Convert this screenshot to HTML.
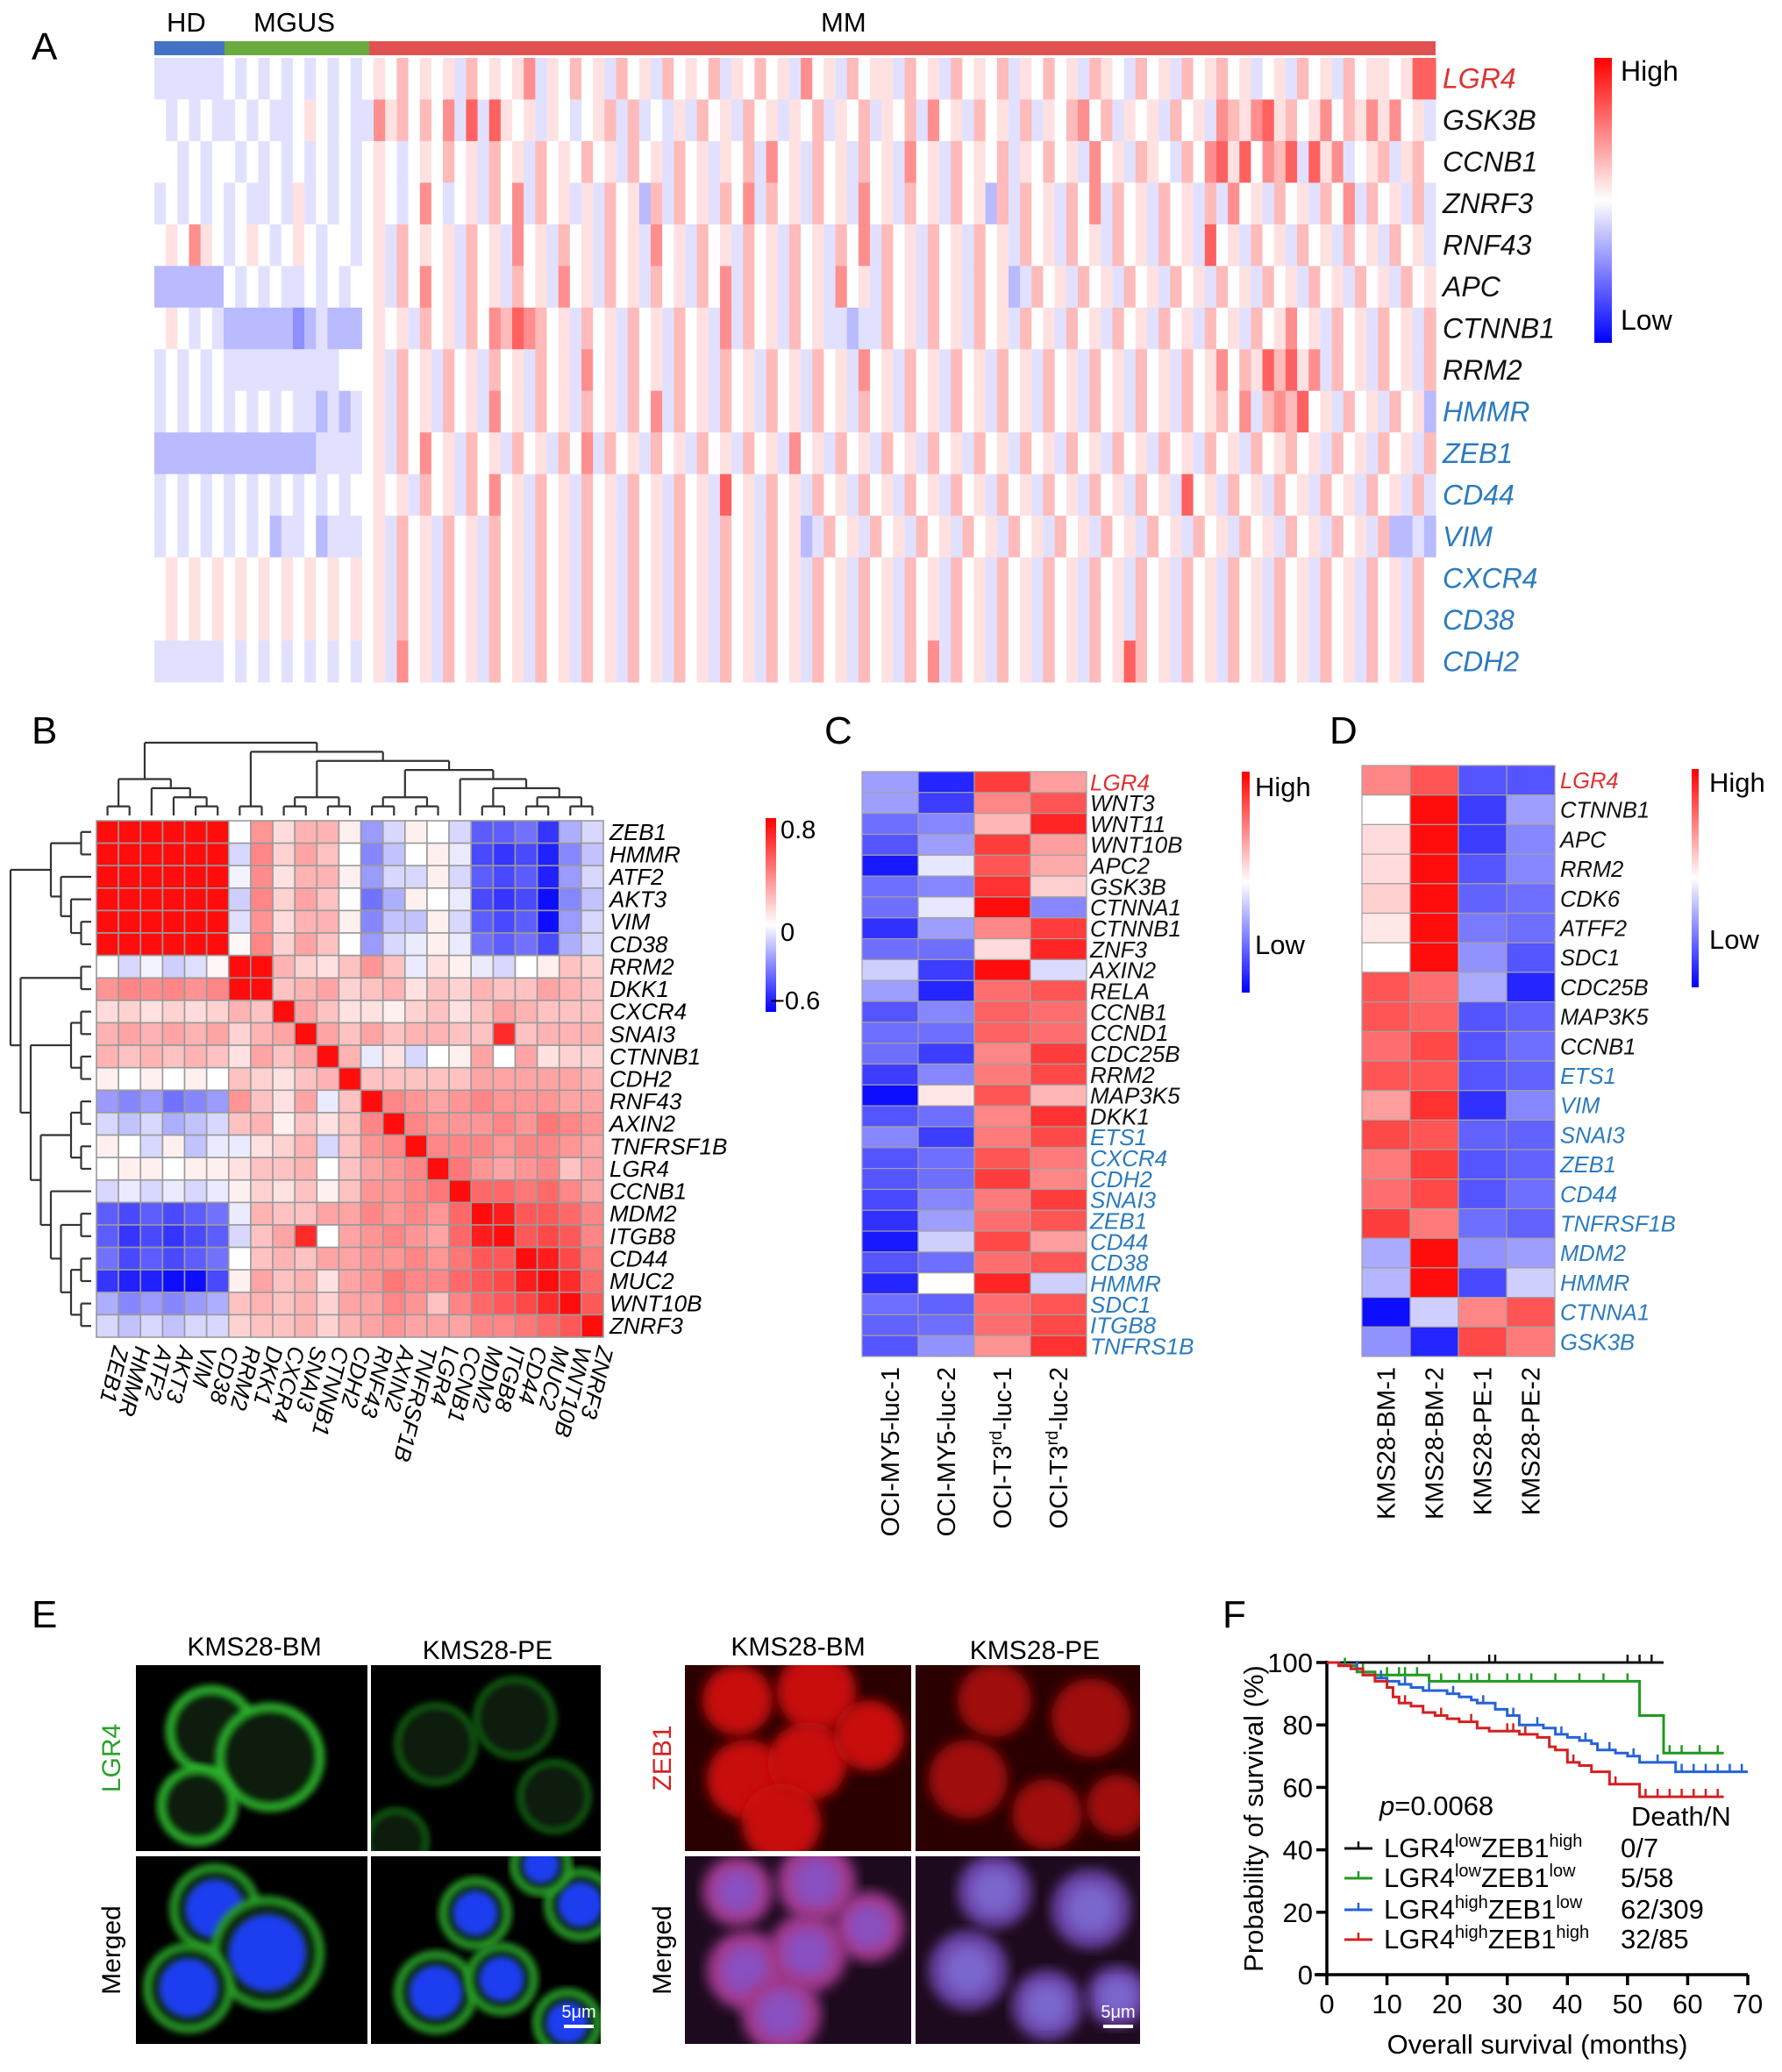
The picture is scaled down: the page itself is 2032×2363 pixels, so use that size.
<!DOCTYPE html>
<html><head><meta charset="utf-8"><title>LGR4 / ZEB1 figure</title>
<style>
html,body{margin:0;padding:0;background:#fff;}
#fig{position:absolute;left:0;top:0;font-family:"Liberation Sans",Arial,sans-serif;}
</style></head>
<body>
<svg id="fig" width="2032" height="2363" viewBox="0 0 2032 2363">
<defs>
 <linearGradient id="hiLo" x1="0" y1="0" x2="0" y2="1">
  <stop offset="0" stop-color="#ff0000"/><stop offset="0.5" stop-color="#ffffff"/><stop offset="1" stop-color="#0000ff"/>
 </linearGradient>
 <linearGradient id="corrGrad" x1="0" y1="0" x2="0" y2="1">
  <stop offset="0" stop-color="#ff0000"/><stop offset="0.55" stop-color="#ffffff"/><stop offset="1" stop-color="#0000ff"/>
 </linearGradient>
 <filter id="blur3"><feGaussianBlur stdDeviation="4"/></filter>
 <filter id="blur6"><feGaussianBlur stdDeviation="7"/></filter>
</defs>
<g font-size="44" fill="#000">
 <text x="36" y="68">A</text>
 <text x="36" y="848">B</text>
 <text x="940" y="848">C</text>
 <text x="1516" y="848">D</text>
 <text x="36" y="1856">E</text>
 <text x="1394" y="1856">F</text>
</g>
<g font-size="31">
 <text x="190" y="36">HD</text>
 <text x="289" y="36">MGUS</text>
 <text x="936" y="36">MM</text>
</g>
<rect x="176" y="47" width="80" height="16" fill="#4472c4"/>
<rect x="256" y="47" width="165" height="16" fill="#6aaa3f"/>
<rect x="421" y="47" width="1216" height="16" fill="#e05252"/>
<g id="panelA"></g>
<rect x="1818" y="66" width="20" height="325" fill="url(#hiLo)"/>
<text x="1848" y="92" font-size="32">High</text>
<text x="1848" y="376" font-size="32">Low</text>

<g id="panelB"></g>
<rect x="873" y="933" width="12" height="221" fill="url(#corrGrad)"/>
<g font-size="29">
<text x="890" y="956">0.8</text>
<text x="890" y="1073">0</text>
<text x="878" y="1151">−0.6</text>
</g>

<g id="panelC"></g>
<rect x="1416" y="880" width="9" height="252" fill="url(#hiLo)"/>
<text x="1431" y="908" font-size="31">High</text>
<text x="1431" y="1088" font-size="31">Low</text>

<g id="panelD"></g>
<rect x="1929" y="877" width="8" height="249" fill="url(#hiLo)"/>
<text x="1949" y="903" font-size="31">High</text>
<text x="1949" y="1082" font-size="31">Low</text>

<g id="panelE">
 <g font-size="30">
  <text x="290" y="1888" text-anchor="middle">KMS28-BM</text>
  <text x="556" y="1892" text-anchor="middle">KMS28-PE</text>
  <text x="910" y="1888" text-anchor="middle">KMS28-BM</text>
  <text x="1180" y="1892" text-anchor="middle">KMS28-PE</text>
  <text transform="translate(137,2005) rotate(-90)" text-anchor="middle" fill="#2ca02c">LGR4</text>
  <text transform="translate(137,2224) rotate(-90)" text-anchor="middle">Merged</text>
  <text transform="translate(765,2005) rotate(-90)" text-anchor="middle" fill="#d62020">ZEB1</text>
  <text transform="translate(765,2224) rotate(-90)" text-anchor="middle">Merged</text>
 </g>
</g>

<g id="panelF"></g>
</svg>
<script>
// ---------------- Panel A data ----------------
const aGenes=["LGR4","GSK3B","CCNB1","ZNRF3","RNF43","APC","CTNNB1","RRM2","HMMR","ZEB1","CD44","VIM","CXCR4","CD38","CDH2"];
const aGeneKind=["red","black","black","black","black","black","black","black","blue","blue","blue","blue","blue","blue","blue"];
const aRows=[
"333333434343434343454645453645457354645364536454635464537453645536453645463546453654364536456453453645364554588",
"434343343433454343375646473838545354345636343536453645354635463546374536453635467463545364537657856457465757453",
"443434434343434343454345464536453645464536453645354637453645364537453645463546453745365436478584768385734563564",
"343434343343534343454347434536473645353645263645364736453645374536453645263645364736453645363745364536473645363",
"454754345434543443453645453645374536453645374536453645364536473645364536453645364536453645384536453645364536453",
"222222434343343434453647453645364537453645364536473645364537453645364536452364536453645364536453645364536453645",
"454343222222123222454536453647687645364536453645373645364533233645364536453645364536453645364536457453645364536",
"343434333333333344453645364536453645374536453645364536453645374536453645364536453645364536457465868573645364536",
"343434343434332323453645364537453645364536473645364536453645364536453645364536453645364536456473676845364536452",
"222222222222223333453647453645364536473645364536453645374536453645364536453645364536453645364536456453645364536",
"343434343434343434454536453647453645364536453645384536453645364536453645364536453645364538453645364536453645363",
"343434343423342333453645364536453645364536453645364536452364536453645364536453645364536453645364536453645362232",
"454545454545454545453645364536453645364536453645364536453645364536453645364536453645364536453645364536453645364",
"454545454545454545453645364536453645364536453645364536453645364536453645364536453645364536453645364536453645364",
"333333434343434343453745364536453645364536453645364536453645364536473645364536453645864536453645364536453645364"
];
// ---------------- Panel B data ----------------
const bGenes=["ZEB1","HMMR","ATF2","AKT3","VIM","CD38","RRM2","DKK1","CXCR4","SNAI3","CTNNB1","CDH2","RNF43","AXIN2","TNFRSF1B","LGR4","CCNB1","MDM2","ITGB8","CD44","MUC2","WNT10B","ZNRF3"];
const bLower=[
[0.8],
[0.8,0.8],
[0.8,0.8,0.8],
[0.8,0.8,0.8,0.8],
[0.8,0.8,0.8,0.8,0.8],
[0.8,0.8,0.8,0.8,0.8,0.8],
[0.0,-0.1,-0.03,-0.12,-0.08,0.03,0.8],
[0.35,0.4,0.38,0.4,0.36,0.4,0.8,0.8],
[0.12,0.15,0.1,0.15,0.12,0.15,0.25,0.2,0.8],
[0.25,0.3,0.25,0.3,0.25,0.3,0.15,0.25,0.3,0.8],
[0.25,0.2,0.25,0.2,0.25,0.2,0.1,0.3,0.2,0.3,0.8],
[0.05,0.0,0.05,0.0,0.05,0.0,0.2,0.15,0.1,0.2,0.25,0.8],
[-0.25,-0.3,-0.25,-0.35,-0.3,-0.25,0.35,0.2,0.1,0.3,-0.05,0.2,0.8],
[-0.1,-0.15,-0.1,-0.2,-0.15,-0.1,0.2,0.25,0.05,0.2,0.1,0.2,0.4,0.8],
[0.05,0.0,-0.1,0.05,-0.15,-0.05,-0.05,0.1,0.15,0.25,-0.1,0.2,0.35,0.4,0.8],
[0.0,0.05,0.05,0.0,0.05,0.05,0.1,0.2,0.2,0.25,0.0,0.2,0.3,0.35,0.4,0.8],
[-0.1,-0.05,-0.1,-0.05,-0.1,-0.05,0.05,0.15,0.1,0.2,0.05,0.2,0.35,0.35,0.4,0.45,0.8],
[-0.4,-0.45,-0.4,-0.45,-0.4,-0.35,-0.05,0.25,0.2,0.2,0.3,0.3,0.4,0.35,0.4,0.35,0.5,0.8],
[-0.4,-0.5,-0.45,-0.5,-0.45,-0.4,-0.1,0.2,0.3,0.7,0.0,0.3,0.35,0.4,0.35,0.3,0.5,0.75,0.8],
[-0.35,-0.45,-0.4,-0.45,-0.4,-0.35,0.0,0.2,0.25,0.2,0.3,0.3,0.35,0.35,0.4,0.35,0.45,0.55,0.55,0.8],
[-0.5,-0.55,-0.55,-0.6,-0.6,-0.45,0.05,0.3,0.2,0.25,0.1,0.3,0.35,0.45,0.4,0.4,0.5,0.55,0.6,0.75,0.8],
[-0.2,-0.3,-0.25,-0.3,-0.25,-0.2,0.2,0.25,0.2,0.25,0.15,0.3,0.3,0.4,0.35,0.2,0.4,0.5,0.55,0.6,0.7,0.8],
[-0.1,-0.15,-0.1,-0.15,-0.1,-0.1,0.15,0.2,0.2,0.25,0.15,0.25,0.3,0.35,0.3,0.3,0.3,0.4,0.4,0.45,0.5,0.55,0.8]
];
const bTree=[[[0,1],[2,[3,[4,5]]]],[[6,7],[[[8,9],[10,11]],[[[12,13],[14,15]],[16,[[17,18],[[19,20],[21,22]]]]]]]];
// ---------------- Panel C data ----------------
const cGenes=["LGR4","WNT3","WNT11","WNT10B","APC2","GSK3B","CTNNA1","CTNNB1","ZNF3","AXIN2","RELA","CCNB1","CCND1","CDC25B","RRM2","MAP3K5","DKK1","ETS1","CXCR4","CDH2","SNAI3","ZEB1","CD44","CD38","HMMR","SDC1","ITGB8","TNFRS1B"];
const cKind=["red","black","black","black","black","black","black","black","black","black","black","black","black","black","black","black","black","blue","blue","blue","blue","blue","blue","blue","blue","blue","blue","blue"];
const cSamples=["OCI-MY5-luc-1","OCI-MY5-luc-2","OCI-T3rd-luc-1","OCI-T3rd-luc-2"];
const cVals=[
[-0.4,-0.9,0.8,0.4],[-0.4,-0.8,0.5,0.7],[-0.6,-0.5,0.3,0.9],[-0.7,-0.4,0.8,0.4],
[-0.95,-0.1,0.7,0.35],[-0.6,-0.5,0.85,0.2],[-0.6,-0.1,1,-0.5],[-0.85,-0.4,0.5,0.8],
[-0.6,-0.6,0.15,0.9],[-0.2,-0.8,1,-0.15],[-0.4,-0.9,0.6,0.7],[-0.7,-0.5,0.65,0.6],
[-0.6,-0.6,0.65,0.6],[-0.6,-0.8,0.5,0.8],[-0.8,-0.5,0.55,0.75],[-1,0.1,0.7,0.3],
[-0.7,-0.6,0.5,0.85],[-0.5,-0.8,0.55,0.75],[-0.7,-0.6,0.7,0.55],[-0.7,-0.6,0.8,0.5],
[-0.75,-0.5,0.55,0.8],[-0.85,-0.4,0.6,0.7],[-0.95,-0.2,0.75,0.4],[-0.7,-0.6,0.6,0.7],
[-0.9,0,0.9,-0.2],[-0.6,-0.65,0.6,0.7],[-0.65,-0.6,0.6,0.75],[-0.7,-0.45,0.45,0.85]
];
// ---------------- Panel D data ----------------
const dGenes=["LGR4","CTNNB1","APC","RRM2","CDK6","ATFF2","SDC1","CDC25B","MAP3K5","CCNB1","ETS1","VIM","SNAI3","ZEB1","CD44","TNFRSF1B","MDM2","HMMR","CTNNA1","GSK3B"];
const dKind=["red","black","black","black","black","black","black","black","black","black","blue","blue","blue","blue","blue","blue","blue","blue","blue","blue"];
const dSamples=["KMS28-BM-1","KMS28-BM-2","KMS28-PE-1","KMS28-PE-2"];
const dVals=[
[0.5,0.7,-0.7,-0.7],[0,1,-0.8,-0.4],[0.15,1,-0.8,-0.5],[0.15,1,-0.7,-0.5],
[0.2,1,-0.65,-0.6],[0.1,1,-0.55,-0.6],[0,1,-0.45,-0.7],[0.7,0.6,-0.35,-0.9],
[0.7,0.65,-0.7,-0.65],[0.6,0.75,-0.7,-0.6],[0.7,0.7,-0.7,-0.65],[0.4,0.85,-0.85,-0.5],
[0.75,0.7,-0.65,-0.65],[0.55,0.8,-0.7,-0.65],[0.6,0.75,-0.7,-0.6],[0.8,0.55,-0.6,-0.65],
[-0.35,1,-0.45,-0.4],[-0.3,1,-0.75,-0.2],[-1,-0.2,0.5,0.7],[-0.45,-0.9,0.75,0.55]
];
// ---------------- Panel F data ----------------
const fGroups=["LGR4lowZEB1high","LGR4lowZEB1low","LGR4highZEB1low","LGR4highZEB1high"];
const fCounts=["0/7","5/58","62/309","32/85"];
const fBlackT=[0,56]; const fBlackS=[100,100]; const fBlackC=[17,27,28,50,52,54];
const fGreenT=[0,2,5,8,17,52,56,66]; const fGreenS=[100,99,97,96,94,83,71,71];
const fGreenC=[3,6,10,12,13,15,19,22,24,25,27,30,32,34,38,42,46,50,57,59,62,65];
const fBlueT=[0,2,4,6,8,10,12,14,16,18,20,22,24,25,28,30,32,34,36,38,40,42,44,45,48,50,52,56,58,70];
const fBlueS=[100,99,98,96,95,94,93,92,91,91,90,89,88,87,85,83,80,80,79,77,76,75,74,72,71,70,68,68,65,65];
const fBlueC=[5,9,13,17,21,26,31,35,39,43,47,51,55,59,61,63,65,67,69];
const fRedT=[0,2,4,6,8,10,11,12,14,16,18,20,22,25,27,32,35,37,38,40,42,44,47,50,52,66];
const fRedS=[100,99,98,96,94,92,89,87,86,84,83,82,81,79,78,77,76,73,72,68,67,65,61,61,57,57];
const fRedC=[13,19,24,30,31,33,41,48,53,55,57,59,61,63,65];
const fYTicks=[0,20,40,60,80,100];
const fXTicks=[0,10,20,30,40,50,60,70];

const NS="http://www.w3.org/2000/svg";
function mk(tag,attrs,parent){const e=document.createElementNS(NS,tag);for(const k in attrs)e.setAttribute(k,attrs[k]);if(parent)parent.appendChild(e);return e;}
function divColor(t){t=Math.max(-1,Math.min(1,t));if(t>=0){const g=Math.round(255*(1-t));return `rgb(255,${g},${g})`;}const r=Math.round(255*(1+t));return `rgb(${r},${r},255)`;}
const kindColor={red:"#e03030",black:"#111",blue:"#2b7bbf"};

// ---- Panel A ----
(function(){
 const g=document.getElementById("panelA");
 const X0=176,X1=1637,Y0=66,Y1=778,rh=(Y1-Y0)/aRows.length;
 aRows.forEach((s,r)=>{
  const n=s.length,w=(X1-X0)/n;
  for(let c=0;c<n;c++){
   const d=+s[c];
   let t=(d-4)/4;t=Math.sign(t)*Math.pow(Math.abs(t),1.2)*0.62;
   const rc=mk("rect",{x:(X0+c*w).toFixed(2),y:(Y0+r*rh).toFixed(2),width:(w+0.6).toFixed(2),height:(rh+0.4).toFixed(2),fill:divColor(t)},g);
   
   
  }
  const tx=mk("text",{x:1645,y:(Y0+(r+0.5)*rh+11).toFixed(1),"font-size":32,"font-style":"italic",fill:kindColor[aGeneKind[r]]},g);
  tx.textContent=aGenes[r];
  
  
 });
})();

// ---- Panel B ----
(function(){
 const g=document.getElementById("panelB");
 const n=bGenes.length,X0=110,X1=688,Y0=936,Y1=1525,cw=(X1-X0)/n,rh=(Y1-Y0)/n;
 function val(i,j){return i>=j?bLower[i][j]:bLower[j][i];}
 for(let i=0;i<n;i++)for(let j=0;j<n;j++){
  const v=val(i,j);const t=v>=0?v/0.8:v/0.6;
  const rc=mk("rect",{x:(X0+j*cw).toFixed(2),y:(Y0+i*rh).toFixed(2),width:cw.toFixed(2),height:rh.toFixed(2),fill:divColor(t*0.95),stroke:"#9a9a9a","stroke-width":1.6},g);
  
  
 }
 bGenes.forEach((name,i)=>{
  const t=mk("text",{x:695,y:(Y0+(i+0.5)*rh+9).toFixed(1),"font-size":26,"font-style":"italic"},g);
  t.textContent=name;
  
  
  const cx=X0+(i+0.5)*cw+7;
  const t2=mk("text",{transform:`translate(${cx.toFixed(1)},1534) rotate(104)`,"font-size":26,"font-style":"italic"},g);
  t2.textContent=name;
  
  
 });
 function depth(node){return Array.isArray(node)?1+Math.max(depth(node[0]),depth(node[1])):0;}
 const H=depth(bTree);
 function draw(node,pos,hpx,line){
  if(!Array.isArray(node))return{p:pos(node),h:0};
  const a=draw(node[0],pos,hpx,line),b=draw(node[1],pos,hpx,line);
  const h=Math.max(a.h,b.h)+1;
  line(a.p,a.h,h);line(b.p,b.h,h);line(a.p,h,h,b.p);
  return{p:(a.p+b.p)/2,h:h};
 }
 const top=mk("g",{stroke:"#333","stroke-width":2.2,fill:"none"},g);
 
 
 draw(bTree,i=>X0+(i+0.5)*cw,null,(p,h0,h1,p2)=>{
  const y=h=>Y0-6-h*(83/H);
  if(p2===undefined)mk("line",{x1:p,y1:y(h0),x2:p,y2:y(h1)},top);
  else mk("line",{x1:p,y1:y(h1),x2:p2,y2:y(h1)},top);
 });
 const left=mk("g",{stroke:"#333","stroke-width":2.2,fill:"none"},g);
 
 
 draw(bTree,i=>Y0+(i+0.5)*rh,null,(p,h0,h1,p2)=>{
  const x=h=>X0-6-h*(92/H);
  if(p2===undefined)mk("line",{x1:x(h0),y1:p,x2:x(h1),y2:p},left);
  else mk("line",{x1:x(h1),y1:p,x2:x(h1),y2:p2},left);
 });
})();

// ---- Panels C & D ----
function smallHeat(gid,genes,kinds,vals,samples,X0,X1,Y0,Y1,fs,labX,colName){
 const g=document.getElementById(gid);
 const nc=samples.length,nr=genes.length,cw=(X1-X0)/nc,rh=(Y1-Y0)/nr;
 for(let i=0;i<nr;i++){for(let j=0;j<nc;j++){
  const rc=mk("rect",{x:(X0+j*cw).toFixed(2),y:(Y0+i*rh).toFixed(2),width:cw.toFixed(2),height:rh.toFixed(2),fill:divColor(vals[i][j]*0.95),stroke:"#a0a0a0","stroke-width":1.2},g);
  
  
 }
  const t=mk("text",{x:labX,y:(Y0+(i+0.5)*rh+fs*0.36).toFixed(1),"font-size":fs,"font-style":"italic",fill:kindColor[kinds[i]]},g);
  t.textContent=genes[i];
  
  
 }
 samples.forEach((s,j)=>{
  const cx=X0+(j+0.5)*cw+10;
  const t=mk("text",{transform:`translate(${cx.toFixed(1)},${Y1+12}) rotate(-90)`,"text-anchor":"end","font-size":29},g);
  const m=s.match(/^(.*T3)(rd)(.*)$/);
  if(m){t.appendChild(document.createTextNode(m[1]));const sp=mk("tspan",{"font-size":19,dy:-11},t);sp.textContent=m[2];const sp2=mk("tspan",{dy:11},t);sp2.textContent=m[3];}
  else t.textContent=s;
  
  
 });
}
smallHeat("panelC",cGenes,cKind,cVals,cSamples,983,1239,880,1547,26,1243,"heatmap-c");
smallHeat("panelD",dGenes,dKind,dVals,dSamples,1553,1773,873,1547,25.5,1779,"heatmap-d");

// ---- Panel E (micrographs) ----
(function(){
 const g=document.getElementById("panelE");
 const panels=[
  {x:155,y:1899,w:264,h:212,bg:"#000",type:"green",cells:[[86,75,48],[153,105,58],[70,160,42]]},
  {x:423,y:1899,w:262,h:212,bg:"#000",type:"green",cells:[[74,90,45],[164,60,45],[209,150,40],[29,200,35]]},
  {x:155,y:2117,w:264,h:214,bg:"#000",type:"gmerge",cells:[[90,60,42],[150,110,55],[60,150,42]]},
  {x:423,y:2117,w:262,h:214,bg:"#000",type:"gmerge",cells:[[119,65,32],[239,55,32],[74,155,38],[149,140,32],[224,190,30],[194,10,26]]},
  {x:781,y:1899,w:258,h:212,bg:"#2a0000",type:"red",cells:[[60,40,40],[150,30,45],[70,130,45],[140,110,45],[110,180,45],[210,80,40]]},
  {x:1044,y:1899,w:256,h:212,bg:"#2a0000",type:"red",cells:[[90,40,42],[200,60,45],[60,130,45],[150,170,40],[230,160,35]]},
  {x:781,y:2117,w:258,h:214,bg:"#1e0a1e",type:"rmerge",cells:[[60,40,40],[150,30,45],[70,130,45],[140,110,45],[110,180,45],[210,80,40]]},
  {x:1044,y:2117,w:256,h:214,bg:"#1e0a1e",type:"rmerge",cells:[[90,40,42],[200,60,45],[60,130,45],[150,170,40],[230,160,35]]}
 ];
 panels.forEach((p,k)=>{
  const cp=mk("clipPath",{id:"clip"+k},g);mk("rect",{x:p.x,y:p.y,width:p.w,height:p.h},cp);
  const pg=mk("g",{"clip-path":`url(#clip${k})`},g);
  
  
  mk("rect",{x:p.x,y:p.y,width:p.w,height:p.h,fill:p.bg},pg);
  p.cells.forEach(c=>{
   const cx=p.x+c[0],cy=p.y+c[1],r=c[2];
   if(p.type==="green"){mk("circle",{cx,cy,r,fill:"#081c08",stroke:k===0?"#2fb82f":"#187a18","stroke-width":k===0?8:4,filter:"url(#blur3)"},pg);}
   else if(p.type==="gmerge"){mk("circle",{cx,cy,r:r+6,fill:"#0a2a0a",stroke:"#2ca52c","stroke-width":7,filter:"url(#blur3)"},pg);mk("circle",{cx,cy,r:r*0.8,fill:"#1a3cf0",filter:"url(#blur3)"},pg);}
   else if(p.type==="red"){mk("circle",{cx,cy,r,fill:k===4?"#c81010":"#a00808",filter:"url(#blur6)"},pg);}
   else {mk("circle",{cx,cy,r,fill:k===6?"#a03a90":"#6a44a8",filter:"url(#blur6)"},pg);mk("circle",{cx,cy,r:r*0.6,fill:k===6?"#8a50c0":"#7a66cc",filter:"url(#blur6)"},pg);}
  });
 });
 [[685,2331],[1300,2331]].forEach(q=>{
  mk("rect",{x:q[0]-42,y:q[1]-22,width:34,height:4,fill:"#fff"},g);
  const t=mk("text",{x:q[0]-25,y:q[1]-30,"font-size":20,fill:"#fff","text-anchor":"middle"},g);
  t.textContent="5μm";
  
  
 });
 mk("rect",{x:419,y:1899,width:4,height:432,fill:"#fff"},g);
 mk("rect",{x:1039,y:1899,width:5,height:432,fill:"#fff"},g);
 mk("rect",{x:155,y:2111,width:530,height:6,fill:"#fff"},g);
 mk("rect",{x:781,y:2111,width:519,height:6,fill:"#fff"},g);
})();

// ---- Panel F ----
(function(){
 const g=document.getElementById("panelF");
 const X0=1513,X1=1993,Y0=2252,Y100=1896;
 const xs=t=>X0+t*(X1-X0)/70, ys=p=>Y0-p*(Y0-Y100)/100;
 const ax=mk("g",{stroke:"#000","stroke-width":3.5,fill:"none"},g);
 
 
 mk("line",{x1:X0,y1:Y0,x2:X0,y2:Y100-2},ax);
 mk("line",{x1:X0-14,y1:Y0,x2:X1,y2:Y0},ax);
 fYTicks.forEach(v=>{mk("line",{x1:X0-12,y1:ys(v),x2:X0,y2:ys(v)},ax);
  const t=mk("text",{x:X0-16,y:ys(v)+11,"font-size":31,"text-anchor":"end",fill:"#000",stroke:"none"},g);t.textContent=v;
  
  });
 fXTicks.forEach(v=>{mk("line",{x1:xs(v),y1:Y0,x2:xs(v),y2:Y0+12},ax);
  const t=mk("text",{x:xs(v),y:Y0+44,"font-size":31,"text-anchor":"middle"},g);t.textContent=v;
  
  });
 const yt=mk("text",{transform:`translate(1440,2074) rotate(-90)`,"font-size":31,"text-anchor":"middle"},g);yt.textContent="Probability of survival (%)";
 
 
 const xt=mk("text",{x:1753,y:2342,"font-size":31,"text-anchor":"middle"},g);xt.textContent="Overall survival (months)";
 
 
 function curve(T,S,C,col,name){
  let d=`M${xs(T[0])},${ys(S[0])}`;
  for(let i=1;i<T.length;i++){d+=`H${xs(T[i]).toFixed(1)}V${ys(S[i]).toFixed(1)}`;}
  const p=mk("path",{d,stroke:col,"stroke-width":3,fill:"none"},g);
  
  
  C.forEach(c=>{let s=S[0];for(let i=0;i<T.length;i++)if(T[i]<=c)s=S[i];
   const tk=mk("line",{x1:xs(c),y1:ys(s),x2:xs(c),y2:ys(s)-9,stroke:col,"stroke-width":2.5},g);
   
   });
 }
 const cols=["#111","#1f9a1f","#2563d6","#d42020"];
 curve(fBlackT,fBlackS,fBlackC,cols[0],"curve-lgr4low-zeb1high");
 curve(fGreenT,fGreenS,fGreenC,cols[1],"curve-lgr4low-zeb1low");
 curve(fBlueT,fBlueS,fBlueC,cols[2],"curve-lgr4high-zeb1low");
 curve(fRedT,fRedS,fRedC,cols[3],"curve-lgr4high-zeb1high");
 const pt=mk("text",{x:1573,y:2070,"font-size":31},g);
 const pi=mk("tspan",{"font-style":"italic"},pt);pi.textContent="p";
 pt.appendChild(document.createTextNode("=0.0068"));
 
 
 const dn=mk("text",{x:1860,y:2082,"font-size":31},g);dn.textContent="Death/N";
 
 
 const ly=[2118,2152,2188,2222];
 fGroups.forEach((gname,i)=>{
  const m=gname.match(/^LGR4(low|high)ZEB1(low|high)$/);
  const sym=mk("line",{x1:1533,y1:ly[i]-10,x2:1565,y2:ly[i]-10,stroke:cols[i],"stroke-width":3},g);
  
  
  mk("line",{x1:1549,y1:ly[i]-10,x2:1549,y2:ly[i]-18,stroke:cols[i],"stroke-width":2.5},g);
  const t=mk("text",{x:1578,y:ly[i],"font-size":31},g);
  t.appendChild(document.createTextNode("LGR4"));
  const s1=mk("tspan",{dy:-12,"font-size":20},t);s1.textContent=m[1];
  const s2=mk("tspan",{dy:12},t);s2.textContent="ZEB1";
  const s3=mk("tspan",{dy:-12,"font-size":20},t);s3.textContent=m[2];
  
  
  const c=mk("text",{x:1848,y:ly[i],"font-size":31},g);c.textContent=fCounts[i];
  
  
 });
})();
</script>
</body></html>
